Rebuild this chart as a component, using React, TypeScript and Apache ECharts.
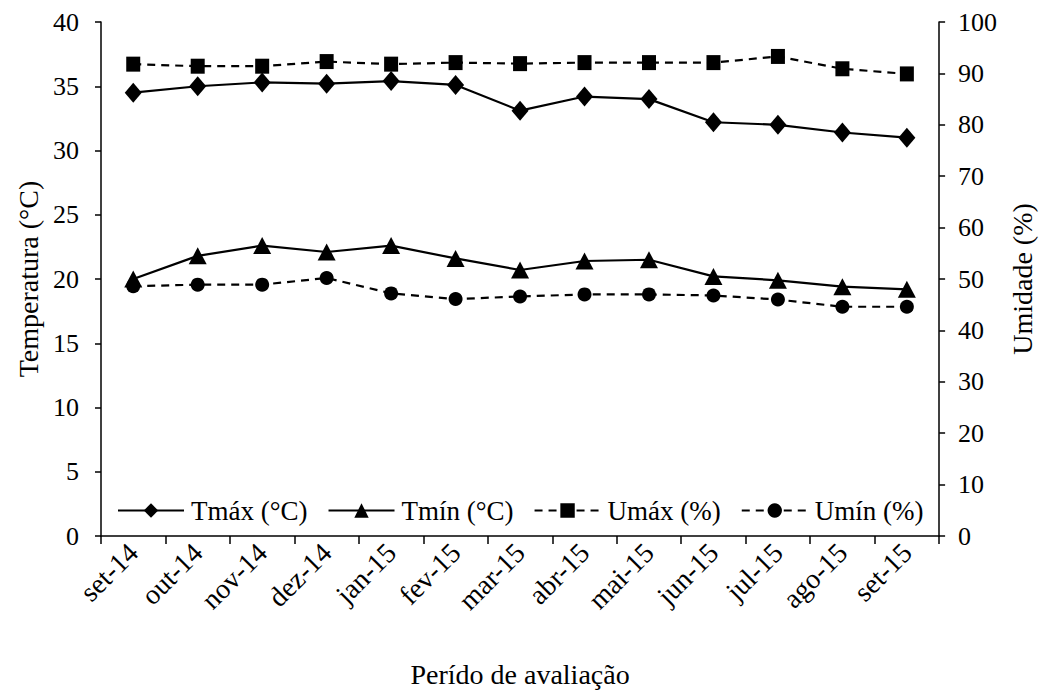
import React, { useEffect, useRef } from "react";
import * as echarts from "echarts";

const categories = ["set-14", "out-14", "nov-14", "dez-14", "jan-15", "fev-15", "mar-15", "abr-15", "mai-15", "jun-15", "jul-15", "ago-15", "set-15"];
const tmax = [34.5, 35.0, 35.3, 35.2, 35.4, 35.1, 33.1, 34.2, 34.0, 32.2, 32.0, 31.4, 31.0];
const tmin = [20.0, 21.8, 22.6, 22.1, 22.6, 21.6, 20.7, 21.4, 21.5, 20.2, 19.9, 19.4, 19.2];
const umax = [91.8, 91.4, 91.4, 92.3, 91.8, 92.1, 91.9, 92.1, 92.1, 92.1, 93.3, 90.9, 89.9];
const umin = [48.6, 48.9, 48.9, 50.2, 47.2, 46.1, 46.6, 47.0, 47.0, 46.8, 46.0, 44.6, 44.6];
const seriesNames = ["Tmáx (°C)", "Tmín (°C)", "Umáx (%)", "Umín (%)"];

const FONT = "'Liberation Serif', 'Times New Roman', serif";

export default function App() {
  const ref = useRef<HTMLDivElement>(null);
  useEffect(() => {
    if (!ref.current) return;
    const chart = echarts.init(ref.current, undefined, { renderer: "svg" });
    const axisLine = { show: true, lineStyle: { color: "#000", width: 1.5 } };
    const axisLabel = { color: "#000", fontSize: 26, fontFamily: FONT };
    const nameStyle = { color: "#000", fontSize: 28, fontFamily: FONT };
    const mkLine = (name: string, data: number[], yIndex: number, symbol: string, size: any, dashed: boolean) => ({
      name,
      type: "line",
      data,
      yAxisIndex: yIndex,
      symbol,
      symbolSize: size,
      showAllSymbol: true,
      itemStyle: { color: "#000" },
      lineStyle: { color: "#000", width: 2.2, type: dashed ? [8, 6] : "solid" },
    });
    chart.setOption({
      animation: false,
      backgroundColor: "#fff",
      textStyle: { fontFamily: FONT },
      grid: { left: 101, right: 101, top: 22, bottom: 153, containLabel: false },
      legend: {
        left: 112,
        top: 492,
        itemWidth: 66,
        itemHeight: 18,
        itemGap: 20,
        textStyle: { color: "#000", fontSize: 27, fontFamily: FONT, padding: [0, 0, 0, 2] },
        data: seriesNames,
      },
      xAxis: {
        type: "category",
        data: categories,
        boundaryGap: true,
        axisLine,
        axisTick: { show: true, length: 8, lineStyle: { color: "#000", width: 1.5 } },
        axisLabel: { ...axisLabel, fontSize: 28, rotate: 45, margin: 12, interval: 0 },
        name: "Perído de avaliação",
        nameLocation: "middle",
        nameGap: 124,
        nameTextStyle: nameStyle,
        splitLine: { show: false },
      },
      yAxis: [
        {
          type: "value",
          min: 0,
          max: 40,
          interval: 5,
          position: "left",
          axisLine,
          axisTick: { show: true, length: 6, lineStyle: { color: "#000", width: 1.5 } },
          axisLabel: { ...axisLabel, margin: 22 },
          splitLine: { show: false },
          name: "Temperatura (°C)",
          nameLocation: "middle",
          nameGap: 59,
          nameRotate: 90,
          nameTextStyle: nameStyle,
        },
        {
          type: "value",
          min: 0,
          max: 100,
          interval: 10,
          position: "right",
          axisLine,
          axisTick: { show: true, length: 6, lineStyle: { color: "#000", width: 1.5 } },
          axisLabel: { ...axisLabel, margin: 19 },
          splitLine: { show: false },
          name: "Umidade (%)",
          nameLocation: "middle",
          nameGap: 68,
          nameRotate: 90,
          nameTextStyle: nameStyle,
        },
      ],
      series: [
        mkLine(seriesNames[0], tmax, 0, "diamond", [17, 20], false),
        mkLine(seriesNames[1], tmin, 0, "triangle", [18, 17], false),
        mkLine(seriesNames[2], umax, 1, "rect", [14, 15], true),
        mkLine(seriesNames[3], umin, 1, "circle", 14, true),
      ],
    });
    return () => chart.dispose();
  }, []);
  return <div ref={ref} style={{ position: "fixed", left: 0, top: 0, width: 1044, height: 693, background: "#fff" }} />;
}
